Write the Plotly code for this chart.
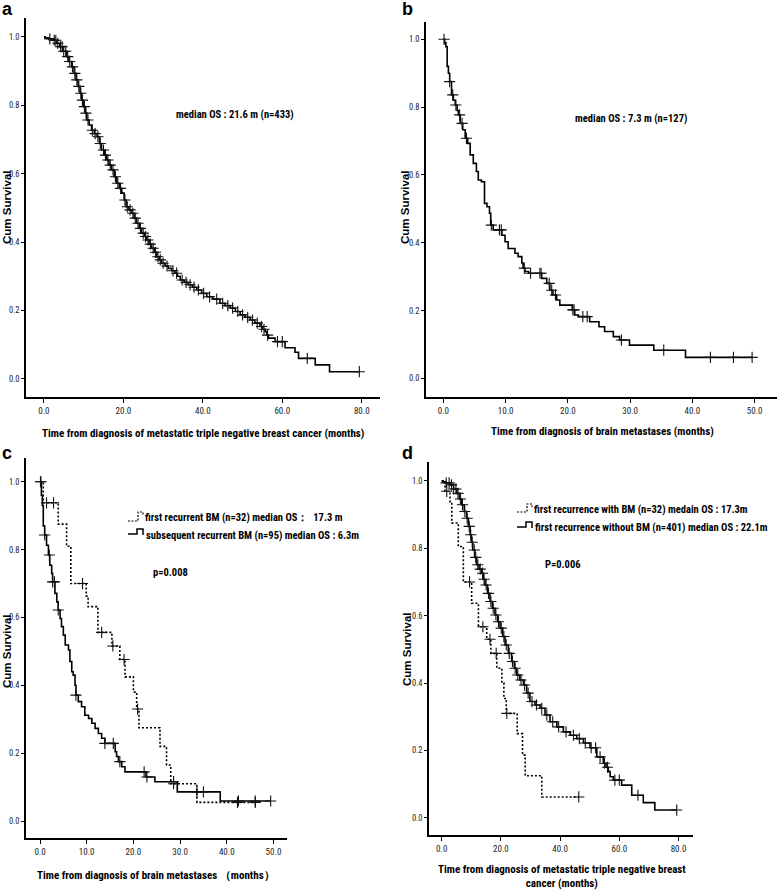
import plotly.graph_objects as go

# ---------------- data ----------------
# Panel a: OS from diagnosis of metastatic TNBC (n=433)
A_T = [0, 0.3, 1.2, 2.3, 3.2, 4.0, 4.8, 5.7, 6.3, 7.0, 7.6, 8.1, 8.6, 9.1, 9.5, 9.9, 10.4, 10.8, 11.4, 12.0,
       12.7, 13.4, 14.0, 14.5, 15.2, 15.8, 16.4, 17.0, 17.7, 18.3, 19.0, 19.6, 20.2, 20.7, 21.4, 22.1, 22.7,
       23.3, 24.0, 24.6, 25.3, 25.9, 26.5, 27.1, 27.8, 28.4, 29.0, 29.6, 30.5, 31.3, 32.2, 33.0, 33.6, 34.3,
       35.3, 36.3, 37.4, 38.5, 39.7, 41.0, 42.5, 44.3, 45.6, 46.9, 48.2, 49.4, 50.6, 51.9, 53.1, 54.4, 55.1,
       55.7, 56.1, 56.5, 58.2, 60.7, 63.2, 64.1, 68.3, 71.9]
A_S = [1.0, 0.997, 0.994, 0.99, 0.981, 0.971, 0.958, 0.942, 0.928, 0.912, 0.893, 0.874, 0.855, 0.835, 0.815,
       0.796, 0.777, 0.757, 0.742, 0.727, 0.717, 0.708, 0.688, 0.669, 0.654, 0.64, 0.625, 0.611, 0.591, 0.572,
       0.557, 0.543, 0.523, 0.503, 0.494, 0.484, 0.47, 0.455, 0.44, 0.426, 0.416, 0.406, 0.394, 0.382, 0.37,
       0.357, 0.348, 0.338, 0.33, 0.323, 0.316, 0.309, 0.3, 0.289, 0.282, 0.275, 0.268, 0.26, 0.25,
       0.24, 0.233, 0.221, 0.214, 0.207, 0.197, 0.187, 0.18, 0.172, 0.163, 0.153, 0.145, 0.138, 0.128, 0.119,
       0.109, 0.091, 0.078, 0.06, 0.041, 0.021]
A_END = 79.4
A_CENS = [1.5, 2.6, 3.0, 3.5, 4.2, 4.6, 5.0, 5.5, 6.0, 6.5, 7.2, 7.8, 8.3, 8.8, 9.3, 9.7, 10.2, 10.6, 11.1,
          12.2, 12.9, 13.6, 14.2, 15.0, 15.5, 16.1, 16.7, 17.4, 18.0, 18.6, 19.3, 20.4, 21.0, 21.7, 22.4, 23.0,
          23.7, 24.3, 25.0, 25.6, 26.2, 26.8, 27.5, 28.1, 28.7, 29.3, 30.0, 31.0, 32.5, 33.4, 34.8, 35.8, 36.8,
          37.8, 38.9, 40.2, 41.7, 43.5, 45.0, 46.3, 47.5, 48.8, 50.0, 51.3, 52.5, 53.7, 54.8, 55.4, 56.3, 58.8,
          60.0, 66.3, 79.4]

# Panel b: OS from diagnosis of brain metastases (n=127)
B_T = [0, 0.2, 0.4, 0.6, 0.8, 1.0, 1.3, 1.6, 1.9, 2.2, 2.4, 2.7, 3.1, 3.5, 3.9, 4.3, 4.8, 5.3, 5.6, 6.1,
       6.6, 7.0, 7.4, 7.6, 8.0, 9.4, 9.9, 10.4, 11.5, 12.0, 12.6, 12.8, 13.1, 13.7, 15.8, 16.6, 17.1, 17.6,
       18.2, 18.7, 20.7, 21.1, 21.7, 23.5, 25.0, 25.9, 27.3, 28.3, 29.9, 33.8, 38.9]
B_S = [1.0, 0.99, 0.978, 0.92, 0.9, 0.875, 0.836, 0.82, 0.806, 0.79, 0.777, 0.752, 0.733, 0.708, 0.693,
       0.659, 0.634, 0.61, 0.585, 0.58, 0.516, 0.506, 0.487, 0.452, 0.438, 0.422, 0.403, 0.383, 0.369, 0.359,
       0.34, 0.325, 0.315, 0.31, 0.295, 0.28, 0.26, 0.246, 0.231, 0.216, 0.202, 0.187, 0.182, 0.167, 0.152,
       0.138, 0.123, 0.113, 0.098, 0.083, 0.062]
B_END = 49.6
B_CENS = [0.1, 1.0, 1.5, 2.0, 2.6, 3.0, 3.7, 7.7, 9.0, 9.3, 13.0, 14.0, 15.5, 15.7, 17.0, 17.4, 18.0, 20.8,
          21.0, 22.4, 23.1, 28.6, 35.4, 42.9, 46.6, 49.6]

# Panel c: first recurrent BM (dotted) vs subsequent recurrent BM (solid)
C1_T = [0, 0.7, 3.9, 5.7, 6.6, 9.9, 10.3, 12.4, 15.4, 17.1, 18.2, 20.0, 20.7, 21.2, 25.7, 27.1, 28.0, 33.6]
C1_S = [1.0, 0.938, 0.875, 0.81, 0.70, 0.663, 0.632, 0.556, 0.516, 0.476, 0.425, 0.38, 0.33, 0.275, 0.22,
        0.165, 0.11, 0.055]
C1_END = 46.1
C1_CENS = [0.2, 1.4, 2.9, 9.1, 13.2, 15.6, 18.0, 20.9, 28.6, 42.3, 46.1]

C2_T = [0, 0.3, 0.5, 0.7, 1.0, 1.4, 1.8, 2.1, 2.5, 2.7, 3.2, 3.6, 3.9, 4.3, 4.6, 5.0, 5.4, 6.1, 6.4, 6.8,
        7.1, 7.5, 7.7, 8.2, 8.9, 9.6, 10.4, 11.1, 11.8, 12.5, 13.2, 13.9, 16.1, 16.4, 16.8, 17.5, 18.2, 22.7,
        24.6, 29.4, 38.6]
C2_S = [1.0, 0.96, 0.93, 0.87, 0.843, 0.813, 0.784, 0.754, 0.73, 0.705, 0.671, 0.646, 0.622, 0.597, 0.573,
        0.548, 0.519, 0.504, 0.47, 0.44, 0.43, 0.40, 0.371, 0.352, 0.337, 0.312, 0.302, 0.288, 0.273, 0.258,
        0.244, 0.229, 0.204, 0.19, 0.175, 0.16, 0.145, 0.13, 0.116, 0.086, 0.059]
C2_END = 49.4
C2_CENS = [0.1, 1.0, 2.0, 2.7, 3.1, 3.9, 7.7, 13.9, 15.7, 17.1, 22.3, 22.9, 28.6, 33.6, 35.0, 42.5, 46.1, 49.4]

# Panel d: first recurrence with BM (dotted) vs without BM (solid)
D1_T = [0, 1.1, 2.8, 3.4, 5.6, 7.3, 10.1, 12.4, 15.2, 16.6, 18.6, 20.3, 21.0, 21.8, 25.5, 27.3, 28.2, 33.8]
D1_S = [1.0, 0.969, 0.938, 0.875, 0.805, 0.70, 0.637, 0.567, 0.53, 0.488, 0.444, 0.40, 0.354, 0.31, 0.25,
        0.186, 0.125, 0.062]
D1_END = 46.3
D1_CENS = [1.7, 9.4, 13.9, 16.3, 18.4, 22.0, 46.3]

D2_T = [0, 0.5, 1.5, 2.8, 4.0, 5.1, 6.0, 6.8, 7.6, 8.4, 9.0, 9.6, 10.0, 10.5, 11.2, 11.8, 12.6, 13.5, 14.0,
        14.6, 15.5, 16.3, 17.1, 18.0, 18.9, 19.7, 20.6, 21.4, 22.5, 23.6, 24.5, 25.3, 26.4, 27.6, 28.7, 29.8,
        31.5, 33.2, 34.9, 36.6, 38.9, 41.1, 43.4, 45.6, 47.9, 50.1, 52.4, 54.6, 55.5, 56.3, 56.9, 58.0, 60.8,
        64.2, 68.1, 72.0]
D2_S = [1.0, 0.997, 0.994, 0.988, 0.976, 0.963, 0.946, 0.929, 0.909, 0.889, 0.865, 0.84, 0.818, 0.795,
        0.773, 0.751, 0.738, 0.726, 0.708, 0.691, 0.666, 0.642, 0.622, 0.602, 0.582, 0.563, 0.538, 0.513,
        0.488, 0.464, 0.444, 0.424, 0.409, 0.394, 0.37, 0.345, 0.335, 0.325, 0.305, 0.285, 0.27, 0.255,
        0.245, 0.235, 0.222, 0.208, 0.181, 0.162, 0.15, 0.137, 0.122, 0.112, 0.097, 0.067, 0.045, 0.023]
D2_END = 79.4
D2_CENS = [1.5, 2.5, 3.3, 4.0, 4.8, 5.5, 6.3, 7.0, 7.8, 8.6, 9.3, 9.8, 10.3, 11.0, 11.5, 12.2, 13.0, 13.8,
           14.3, 15.0, 15.8, 16.6, 17.4, 18.3, 19.2, 20.1, 21.0, 21.8, 22.8, 23.9, 24.8, 25.7, 26.8, 28.0,
           29.2, 30.5, 32.0, 33.8, 35.5, 37.5, 39.5, 42.0, 44.5, 46.5, 48.5, 50.5, 52.0, 53.5, 55.0, 56.0,
           58.5, 60.0, 66.3, 79.4]

Y_TICKS = [0.0, 0.2, 0.4, 0.6, 0.8, 1.0]
XT_A = [0, 20, 40, 60, 80]
XT_B = [0, 10, 20, 30, 40, 50]
XT_C = [0, 10, 20, 30, 40, 50]
XT_D = [0, 20, 40, 60, 80]

# ---------------- layout helpers ----------------
W, H = 778, 892
NARROW = "Roboto Condensed, Liberation Sans Narrow, Arial Narrow, sans-serif"
WIDE = "Liberation Sans, Arial, Helvetica, sans-serif"


def fx(x):
    return x / W


def fy(y):
    return 1 - y / H


def surv_at(T, S, t):
    v = S[0]
    for ti, si in zip(T, S):
        if ti <= t:
            v = si
        else:
            break
    return v


fig = go.Figure()

panels = [
    # key, x-pixels, y-pixels, x-range, y-range, x-ticks
    ("", (26, 380), (18, 397), (-4.5, 84.6), (-0.053, 1.055), XT_A),
    ("2", (426, 777), (22, 397), (-2.8, 53.6), (-0.055, 1.051), XT_B),
    ("3", (26, 287), (458, 838), (-3.0, 52.9), (-0.05, 1.07), XT_C),
    ("4", (429, 693), (462, 835), (-4.3, 84.9), (-0.051, 1.056), XT_D),
]

layout_axes = {}
for key, xp, ypx, xr, yr, xt in panels:
    layout_axes["xaxis" + key] = dict(
        domain=[fx(xp[0]), fx(xp[1])], range=list(xr), anchor="y" + key,
        tickvals=xt, ticktext=["%.1f" % v for v in xt],
        showline=True, linecolor="black", linewidth=1.5, ticks="outside", ticklen=4,
        tickwidth=1, tickcolor="black", showgrid=False, zeroline=False,
        tickfont=dict(family=NARROW, size=9, color="#222"), fixedrange=True,
    )
    layout_axes["yaxis" + key] = dict(
        domain=[fy(ypx[1]), fy(ypx[0])], range=list(yr), anchor="x" + key,
        tickvals=Y_TICKS, ticktext=["%.1f" % v for v in Y_TICKS],
        showline=True, linecolor="black", linewidth=1.5, ticks="outside", ticklen=3,
        tickwidth=1, tickcolor="black", showgrid=False, zeroline=False,
        tickfont=dict(family=NARROW, size=8.5, color="#222"), fixedrange=True,
    )


def add_km(T, S, end, cens, key, dash):
    fig.add_trace(go.Scatter(
        x=T + [end], y=S + [S[-1]], mode="lines",
        line=dict(shape="hv", color="black", width=1.6, dash=dash),
        xaxis="x" + key, yaxis="y" + key, hoverinfo="skip", showlegend=False))
    fig.add_trace(go.Scatter(
        x=cens, y=[surv_at(T, S, t) for t in cens], mode="markers",
        marker=dict(symbol="cross-thin", size=8, line=dict(width=1.1, color="#111")),
        xaxis="x" + key, yaxis="y" + key, hoverinfo="skip", showlegend=False, cliponaxis=False))


DOT = "2px,2px"
add_km(A_T, A_S, A_END, A_CENS, "", "solid")
add_km(B_T, B_S, B_END, B_CENS, "2", "solid")
add_km(C2_T, C2_S, C2_END, C2_CENS, "3", "solid")
add_km(C1_T, C1_S, C1_END, C1_CENS, "3", DOT)
add_km(D2_T, D2_S, D2_END, D2_CENS, "4", "solid")
add_km(D1_T, D1_S, D1_END, D1_CENS, "4", DOT)

ann = []


def text(x, y, s, size=11, family=NARROW, bold=True, xanchor="center", yanchor="middle", angle=0):
    ann.append(dict(x=fx(x), y=fy(y), xref="paper", yref="paper", text=("<b>%s</b>" % s) if bold else s,
                    showarrow=False, xanchor=xanchor, yanchor=yanchor, textangle=angle, borderpad=0,
                    font=dict(family=family, size=size, color="black")))


# panel letters
text(7, 9, "a", size=18, family=WIDE)
text(407, 9, "b", size=18, family=WIDE)
text(7, 453, "c", size=18, family=WIDE)
text(407, 453, "d", size=18, family=WIDE)

# y titles
for (x, y) in [(7, 207), (405, 207), (7, 651), (407, 649)]:
    text(x, y, "Cum Survival", size=11.5, family=WIDE, angle=-90)

# x titles
text(203, 434, "Time from diagnosis of metastatic triple negative breast cancer (months)", size=11)
text(602, 431, "Time from diagnosis of brain metastases (months)", size=11)
text(156, 875, "Time from diagnosis of brain metastases （months）", size=11)
text(562, 876, "Time from diagnosis of metastatic triple negative breast<br>cancer (months)", size=11)

# in-plot annotations
text(235, 114, "median OS : 21.6 m (n=433)", size=10.5)
text(631, 118, "median OS : 7.3 m (n=127)", size=10.5)
text(170, 572, "p=0.008", size=10.5)
text(563, 564, "P=0.006", size=10.5)

# legends
text(144, 517, "first recurrent BM (n=32) median OS：  17.3 m", size=10.5, xanchor="left")
text(145, 535, "subsequent recurrent BM (n=95) median OS : 6.3m", size=10.5, xanchor="left")
text(533, 509, "first recurrence with BM (n=32) medain OS : 17.3m", size=10.5, xanchor="left")
text(534, 527, "first recurrence without BM (n=401) median OS : 22.1m", size=10.5, xanchor="left")


def path(pts):
    return "M " + " L ".join("%.5f,%.5f" % (fx(x), fy(y)) for x, y in pts)


shapes = [
    dict(type="path", xref="paper", yref="paper", path=path([(128, 521), (138, 521), (138, 512), (143, 512), (143, 515)]),
         line=dict(color="black", width=1.2, dash="2px,1.5px")),
    dict(type="path", xref="paper", yref="paper", path=path([(128, 534), (137, 534), (137, 529), (143, 529), (143, 535)]),
         line=dict(color="black", width=1.5)),
    dict(type="path", xref="paper", yref="paper", path=path([(517, 512), (527, 512), (527, 504), (532, 504), (532, 507)]),
         line=dict(color="black", width=1.2, dash="2px,1.5px")),
    dict(type="path", xref="paper", yref="paper", path=path([(517, 527), (526, 527), (526, 522), (532, 522), (532, 528)]),
         line=dict(color="black", width=1.5)),
]

fig.update_layout(
    width=W, height=H, margin=dict(l=0, r=0, t=0, b=0),
    paper_bgcolor="white", plot_bgcolor="white",
    annotations=ann, shapes=shapes, showlegend=False, **layout_axes,
)

fig.write_html("out.html", config={"displayModeBar": False},
               post_script="document.body.style.margin='0px';document.body.style.overflow='hidden';")
